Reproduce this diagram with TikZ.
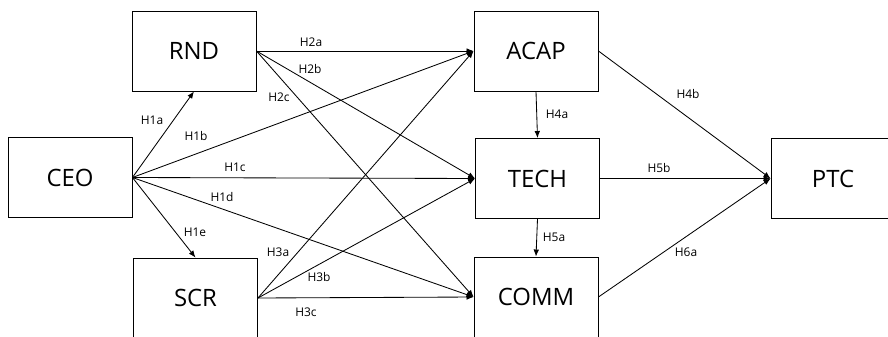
\documentclass[tikz,border=0pt]{standalone}
\usepackage{fontspec}
\setmainfont{Open Sans}
\usetikzlibrary{arrows.meta}
\tikzset{
	varbox/.style={draw, line width=0.6pt, minimum width=3.1cm, minimum height=2cm, inner sep=0pt, font=\fontsize{17}{19}\selectfont},
	hyp/.style={inner sep=0pt, font=\fontsize{8.5}{10}\selectfont},
	path/.style={line width=0.6pt, -{Latex[length=5pt,width=4pt]}}
}

\begin{document}
\begin{tikzpicture}[x=0.025cm, y=-0.025cm]
			%%%%% START %%%%%
			\useasboundingbox (0, 0) rectangle (888, 336);
			
			\node[varbox] (ceo) at (70, 177.5) {CEO};
			\node[varbox] (rnd) at (194, 51) {RND};
			\node[varbox] (scr) at (195.5, 298) {SCR};
			\node[varbox] (acap) at (536, 51) {ACAP};
			\node[varbox] (tech) at (537.5, 178.5) {TECH};
			\node[varbox] (comm) at (536, 297) {COMM};
			\node[varbox] (ptc) at (833, 178.5) {PTC};
			
			\draw[path] (ceo.east) -- (rnd.south);
			\draw[path] (ceo.east) -- (acap.west);
			\draw[path] (ceo.east) -- (tech.west);
			\draw[path] (ceo.east) -- (comm.west);
			\draw[path] (ceo.east) -- (scr.north);
			
			\draw[path] (rnd.east) -- (acap.west);
			\draw[path] (rnd.east) -- (tech.west);
			\draw[path] (rnd.east) -- (comm.west);
			
			\draw[path] (scr.east) -- (acap.west);
			\draw[path] (scr.east) -- (tech.west);
			\draw[path] (scr.east) -- (comm.west);
			
			\draw[path] (acap.south) -- (tech.north);
			\draw[path] (tech.south) -- (comm.north);
			
			\draw[path] (acap.east) -- (ptc.west);
			\draw[path] (tech.east) -- (ptc.west);
			\draw[path] (comm.east) -- (ptc.west);
			
			\node[hyp] (h1a) at (152, 120) {H1a};
			\node[hyp] (h1b) at (196, 136) {H1b};
			\node[hyp] (h1c) at (235, 167) {H1c};
			\node[hyp] (h1d) at (222, 197) {H1d};
			\node[hyp] (h1e) at (195, 232) {H1e};
			\node[hyp] (h2a) at (311, 42) {H2a};
			\node[hyp] (h2b) at (310, 69) {H2b};
			\node[hyp] (h2c) at (279, 97) {H2c};
			\node[hyp] (h3a) at (278, 252) {H3a};
			\node[hyp] (h3b) at (319, 277) {H3b};
			\node[hyp] (h3c) at (306, 312) {H3c};
			\node[hyp] (h4a) at (557, 114) {H4a};
			\node[hyp] (h4b) at (688, 94) {H4b};
			\node[hyp] (h5a) at (554, 237) {H5a};
			\node[hyp] (h5b) at (659, 168) {H5b};
			\node[hyp] (h6a) at (686, 252) {H6a};
			
			%%%%% END %%%%%
		\end{tikzpicture}
\end{document}
